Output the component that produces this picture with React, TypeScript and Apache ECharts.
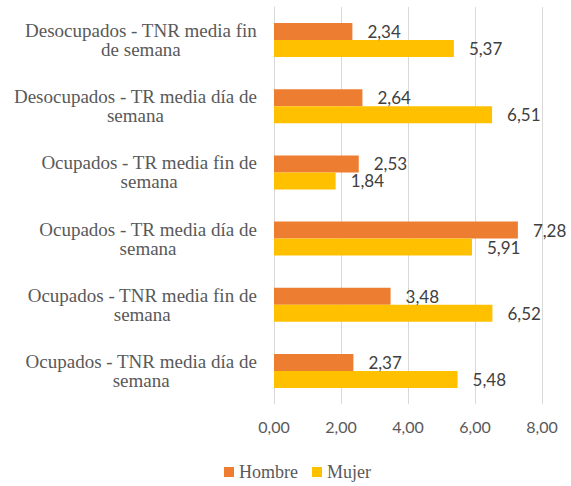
import React, { useEffect, useRef } from "react";
import * as echarts from "echarts";

// listed bottom-to-top (category axis starts at the bottom)
const categories = [
  "Ocupados - TNR media día de|semana",
  "Ocupados - TNR media fin de|semana",
  "Ocupados - TR media día de|semana",
  "Ocupados - TR media fin de|semana",
  "Desocupados - TR media día de|semana",
  "Desocupados - TNR media fin|de semana",
];
const hombre = [2.37, 3.48, 7.28, 2.53, 2.64, 2.34];
const mujer = [5.48, 6.52, 5.91, 1.84, 6.51, 5.37];
const xTicks = { min: 0, max: 8, interval: 2 };

const fmt = (v: number) => v.toFixed(2).replace(".", ",");
const SERIF = "'Liberation Serif', 'Times New Roman', serif";

export default function App() {
  const ref = useRef<HTMLDivElement>(null);
  useEffect(() => {
    if (!ref.current) return;
    const chart = echarts.init(ref.current, null, { renderer: "svg" });
    const labelStyle = {
      show: true,
      position: "right" as const,
      distance: 15,
      fontFamily: "Lato",
      fontSize: 17,
      color: "#404040",
      formatter: (p: any) => fmt(p.value),
    };
    chart.setOption({
      animation: false,
      grid: { left: 274, right: 29, top: 7, bottom: 82 },
      legend: {
        bottom: 0,
        left: 219,
        itemWidth: 10,
        itemHeight: 10,
        itemGap: 14,
        icon: "rect",
        textStyle: { fontFamily: SERIF, fontSize: 18, color: "#595959" },
        data: ["Hombre", "Mujer"],
      },
      xAxis: {
        type: "value",
        min: xTicks.min,
        max: xTicks.max,
        interval: xTicks.interval,
        splitLine: { lineStyle: { color: "#d9d9d9", width: 1 } },
        axisLabel: {
          fontFamily: "Lato",
          fontSize: 16,
          color: "#595959",
          margin: 14,
          formatter: (v: number) => fmt(v),
        },
      },
      yAxis: {
        type: "category",
        data: categories,
        axisLine: { show: true, lineStyle: { color: "#d9d9d9", width: 1 } },
        axisTick: { show: false },
        axisLabel: {
          margin: 17,
          fontFamily: SERIF,
          fontSize: 19,
          color: "#595959",
          formatter: (v: string) =>
            v
              .split("|")
              .map((s) => `{c|${s}}`)
              .join("\n"),
          rich: {
            c: {
              align: "center",
              fontFamily: SERIF,
              fontSize: 19,
              color: "#595959",
            },
          },
        },
      },
      series: [
        {
          name: "Hombre",
          type: "bar",
          data: hombre,
          barWidth: 17,
          barGap: "0%",
          itemStyle: { color: "#ED7D31" },
          label: labelStyle,
        },
        {
          name: "Mujer",
          type: "bar",
          data: mujer,
          barWidth: 17,
          barGap: "0%",
          itemStyle: { color: "#FFC000" },
          label: labelStyle,
        },
      ],
    });
    return () => chart.dispose();
  }, []);
  return <div ref={ref} style={{ width: 571, height: 486, position: "absolute", left: 0, top: 0 }} />;
}
